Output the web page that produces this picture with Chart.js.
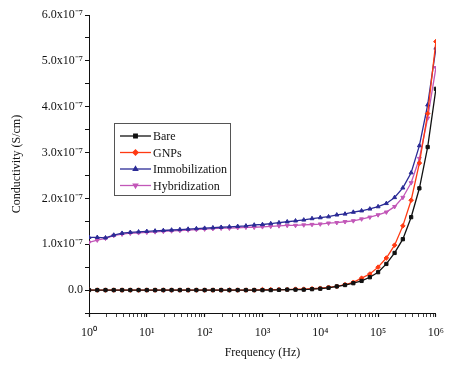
<!DOCTYPE html>
<html>
<head>
<meta charset="utf-8">
<script src="https://cdn.jsdelivr.net/npm/chart.js@4/dist/chart.umd.min.js"></script>
<style>
  html, body { margin: 0; padding: 0; background: #fff; }
  #wrap { width: 453px; height: 370px; }
</style>
</head>
<body>
<div id="wrap"><canvas id="myChart" width="453" height="370"></canvas></div>
<script>
// frequency (Hz), 7 points per decade
const freq = [
  1, 1.39, 1.93, 2.68, 3.73, 5.18, 7.2,
  10, 13.9, 19.3, 26.8, 37.3, 51.8, 72,
  100, 139, 193, 268, 373, 518, 720,
  1000, 1390, 1930, 2680, 3730, 5180, 7200,
  10000, 13900, 19300, 26800, 37300, 51800, 72000,
  100000, 139000, 193000, 268000, 373000, 518000, 720000,
  1000000
]

// conductivity, in units of 1e-7 S/cm
const bare = [
  0, 0, 0, 0, 0, 0, 0,
  0, 0, 0, 0, 0, 0, 0,
  0, 0, 0, 0, 0, 0, 0,
  0, 0, 0.005, 0.01, 0.01, 0.01, 0.02,
  0.03, 0.05, 0.08, 0.11, 0.15, 0.2, 0.28,
  0.39, 0.57, 0.81, 1.11, 1.59, 2.22, 3.12,
  4.39
]
const gnps = [
  0, 0, 0, 0, 0, 0, 0,
  0, 0, 0, 0, 0, 0, 0,
  0, 0, 0, 0, 0, 0, 0,
  0.01, 0.01, 0.01, 0.01, 0.02, 0.02, 0.03,
  0.04, 0.06, 0.08, 0.12, 0.17, 0.26, 0.35,
  0.5, 0.7, 0.98, 1.4, 1.96, 2.77, 3.85,
  5.42
]
const immob = [
  1.15, 1.15, 1.14, 1.2, 1.24, 1.26, 1.27,
  1.28, 1.29, 1.3, 1.31, 1.32, 1.33, 1.34,
  1.35, 1.36, 1.37, 1.38, 1.39, 1.4, 1.42,
  1.43, 1.45, 1.47, 1.49, 1.51, 1.53, 1.56,
  1.58, 1.6, 1.64, 1.66, 1.7, 1.73, 1.77,
  1.82, 1.89, 2.02, 2.23, 2.56, 3.15, 4.04,
  5.28
]
const hybrid = [
  1.04, 1.09, 1.13, 1.19, 1.22, 1.24, 1.25,
  1.26, 1.27, 1.28, 1.29, 1.3, 1.31, 1.32,
  1.33, 1.34, 1.35, 1.35, 1.36, 1.37, 1.37,
  1.38, 1.39, 1.4, 1.41, 1.41, 1.42, 1.43,
  1.44, 1.46, 1.47, 1.49, 1.51, 1.55, 1.59,
  1.64, 1.7, 1.82, 2.02, 2.34, 2.87, 3.75,
  4.85
]

const seriesNames = ['Bare', 'GNPs', 'Immobilization', 'Hybridization']
const seriesColors = ['#111111', '#ff3a12', '#2b2b96', '#c257b8']
const seriesMarkers = ['rect', 'rectRot', 'triangle', 'triangle']
const markerRotation = [0, 0, 0, 180]
const seriesValues = [bare, gnps, immob, hybrid]

const sup = { '-': '\u207B', '0': '\u2070', '1': '\u00B9', '2': '\u00B2', '3': '\u00B3',
  '4': '\u2074', '5': '\u2075', '6': '\u2076', '7': '\u2077', '8': '\u2078', '9': '\u2079' }
const toSup = (s) => String(s).split('').map(c => sup[c]).join('')

const serif = "'Liberation Serif', 'Times New Roman', serif"

const isDecade = (v) => {
  const e = Math.log10(v)
  return Math.abs(e - Math.round(e)) < 1e-9
}

// legend drawn inside the plot, Origin style
const boxLegend = {
  id: 'boxLegend',
  afterDraw(chart) {
    const ctx = chart.ctx
    const x0 = 114, y0 = 123, w = 116, h = 72
    ctx.save()
    ctx.strokeStyle = '#555'
    ctx.lineWidth = 1
    ctx.strokeRect(x0 + 0.5, y0 + 0.5, w, h)
    ctx.font = '12px ' + serif
    ctx.textBaseline = 'middle'
    chart.data.datasets.forEach((ds, i) => {
      const y = y0 + 13 + i * 16.5
      ctx.strokeStyle = ds.borderColor
      ctx.lineWidth = 1.3
      ctx.beginPath()
      ctx.moveTo(x0 + 6, y)
      ctx.lineTo(x0 + 37, y)
      ctx.stroke()
      ctx.fillStyle = ds.borderColor
      Chart.helpers.drawPoint(ctx, {
        pointStyle: ds.pointStyle, rotation: ds.pointRotation, radius: 2.5, borderWidth: 1
      }, x0 + 21.5, y)
      ctx.fillStyle = '#111'
      ctx.fillText(ds.label, x0 + 39, y + 1)
    })
    ctx.restore()
  }
}

const datasets = seriesNames.map((name, i) => ({
  label: name,
  data: freq.map((f, j) => ({ x: f, y: seriesValues[i][j] })),
  borderColor: seriesColors[i],
  backgroundColor: seriesColors[i],
  borderWidth: 1.3,
  pointStyle: seriesMarkers[i],
  pointRotation: markerRotation[i],
  pointRadius: 2.3,
  pointBorderWidth: 1,
  tension: 0
}))

new Chart(document.getElementById('myChart'), {
  type: 'line',
  data: { datasets: datasets },
  options: {
    responsive: false,
    animation: false,
    layout: { padding: { top: 15, right: 15, left: 0, bottom: 0 } },
    plugins: { legend: { display: false }, tooltip: { enabled: false } },
    scales: {
      x: {
        type: 'logarithmic',
        min: 1,
        max: 1000000,
        afterFit: (scale) => { scale.height = 57 },
        afterBuildTicks: (scale) => {
          const ticks = []
          for (let d = 1; d < 1000000; d *= 10) {
            for (let m = 1; m < 10; m++) ticks.push({ value: m * d })
          }
          ticks.push({ value: 1000000 })
          scale.ticks = ticks
        },
        border: { color: '#111', width: 1 },
        grid: {
          drawOnChartArea: false, drawTicks: true, tickLength: 4, color: '#111',
          tickWidth: (c) => (c.tick && isDecade(c.tick.value) ? 1.2 : 0.8)
        },
        ticks: {
          color: '#111',
          font: { family: serif, size: 12 },
          padding: 9,
          autoSkip: false,
          maxRotation: 0,
          callback: function (value) {
            if (isDecade(value)) return '10' + toSup(Math.round(Math.log10(value)))
            return ''
          }
        },
        title: {
          display: true,
          text: 'Frequency (Hz)',
          color: '#111',
          font: { family: serif, size: 12 },
          padding: { top: 0, bottom: 10 }
        }
      },
      y: {
        min: -0.5,
        max: 6,
        afterFit: (scale) => { scale.width = 89 },
        border: { color: '#111', width: 1 },
        grid: { drawOnChartArea: false, drawTicks: true, tickLength: 4, color: '#111' },
        ticks: {
          stepSize: 0.5,
          color: '#111',
          font: { family: serif, size: 12 },
          padding: 2,
          callback: function (value) {
            if (value < 0 || Math.abs(value - Math.round(value)) > 1e-9) return ''
            if (value === 0) return '0.0'
            return value.toFixed(1) + 'x10' + toSup(-7)
          }
        },
        title: {
          display: true,
          text: 'Conductivity (S/cm)',
          color: '#111',
          font: { family: serif, size: 12 },
          padding: { top: 10, bottom: 0 }
        }
      }
    }
  },
  plugins: [boxLegend]
})
</script>
</body>
</html>
